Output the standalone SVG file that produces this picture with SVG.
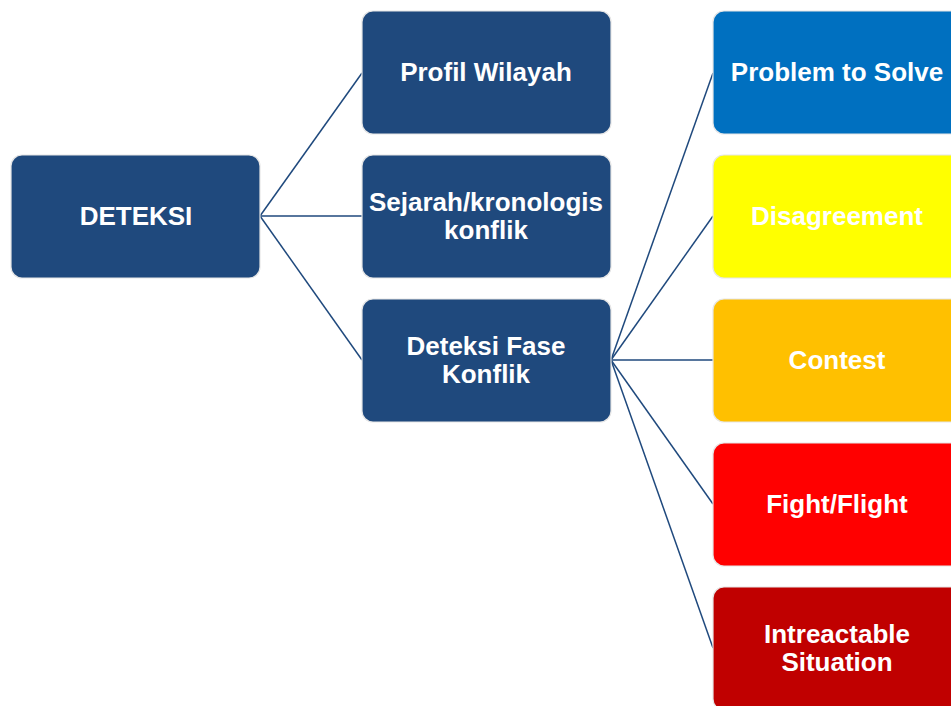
<svg xmlns="http://www.w3.org/2000/svg" width="951" height="706" viewBox="0 0 951 706">
  <style>
    .box { stroke: #e6e6e6; stroke-width: 1.2; }
    .navy { fill: #1F497D; }
    .lbl { font-family: "Liberation Sans", Arial, sans-serif; font-weight: bold; font-size: 26px; fill: #ffffff; text-anchor: middle; }
    .link { stroke: #1F497D; stroke-width: 1.5; fill: none; }
  </style>
  <rect width="951" height="706" fill="#ffffff"/>

  <g id="connectors">
    <line class="link" x1="260" y1="216" x2="362" y2="73"/>
    <line class="link" x1="260" y1="216" x2="362" y2="216"/>
    <line class="link" x1="260" y1="216" x2="362" y2="360"/>
    <line class="link" x1="611" y1="360" x2="713" y2="73"/>
    <line class="link" x1="611" y1="360" x2="713" y2="216"/>
    <line class="link" x1="611" y1="360" x2="713" y2="360"/>
    <line class="link" x1="611" y1="360" x2="713" y2="504"/>
    <line class="link" x1="611" y1="360" x2="713" y2="648"/>
  </g>

  <g id="deteksi">
    <rect class="box navy" x="11" y="155" width="249" height="123" rx="11"/>
    <text class="lbl" x="136" y="225">DETEKSI</text>
  </g>

  <g id="profil-wilayah">
    <rect class="box navy" x="362" y="11" width="249" height="123" rx="11"/>
    <text class="lbl" x="486" y="81">Profil Wilayah</text>
  </g>

  <g id="sejarah">
    <rect class="box navy" x="362" y="155" width="249" height="123" rx="11"/>
    <text class="lbl" x="486" y="211">Sejarah/kronologis</text>
    <text class="lbl" x="486" y="239">konflik</text>
  </g>

  <g id="deteksi-fase">
    <rect class="box navy" x="362" y="299" width="249" height="123" rx="11"/>
    <text class="lbl" x="486" y="355">Deteksi Fase</text>
    <text class="lbl" x="486" y="383">Konflik</text>
  </g>

  <g id="problem-to-solve">
    <rect class="box" fill="#0070C0" x="713" y="11" width="249" height="123" rx="11"/>
    <text class="lbl" x="837" y="81">Problem to Solve</text>
  </g>

  <g id="disagreement">
    <rect class="box" fill="#FFFF00" x="713" y="155" width="249" height="123" rx="11"/>
    <text class="lbl" x="837" y="225">Disagreement</text>
  </g>

  <g id="contest">
    <rect class="box" fill="#FFC000" x="713" y="299" width="249" height="123" rx="11"/>
    <text class="lbl" x="837" y="369">Contest</text>
  </g>

  <g id="fight-flight">
    <rect class="box" fill="#FF0000" x="713" y="443" width="249" height="123" rx="11"/>
    <text class="lbl" x="837" y="513">Fight/Flight</text>
  </g>

  <g id="intreactable-situation">
    <rect class="box" fill="#C00000" x="713" y="587" width="249" height="123" rx="11"/>
    <text class="lbl" x="837" y="643">Intreactable</text>
    <text class="lbl" x="837" y="671">Situation</text>
  </g>
</svg>
